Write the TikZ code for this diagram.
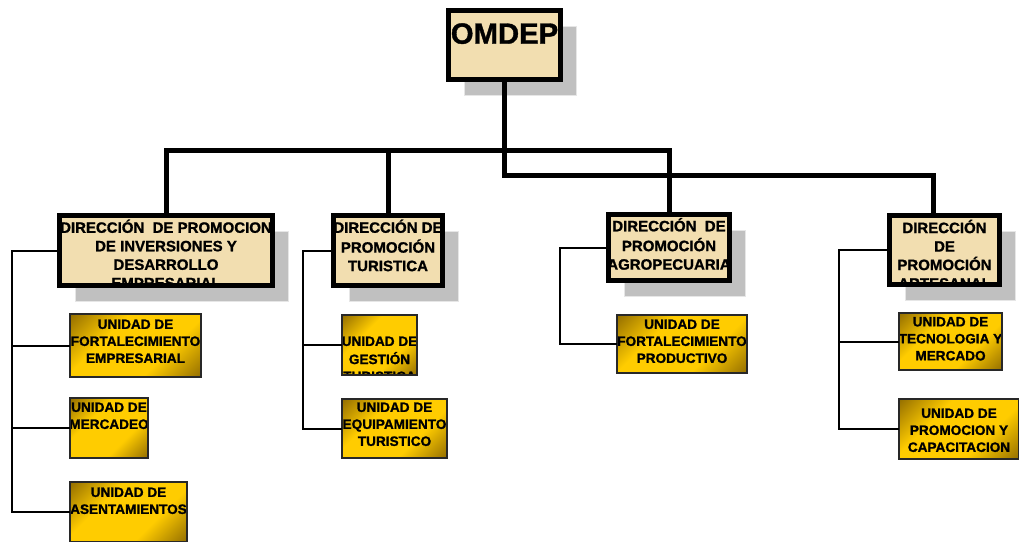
\documentclass[tikz,border=0pt]{standalone}
\usepackage{fontspec}
\setmainfont{Liberation Sans}[BoldFeatures={FakeBold=1.2}]
\usetikzlibrary{shadows}

\definecolor{papel}{RGB}{242,222,176}
\definecolor{oro}{RGB}{255,204,0}
\definecolor{oroosc}{RGB}{70,50,0}
\definecolor{oromed}{RGB}{165,125,0}
\definecolor{sombra}{RGB}{192,192,192}
\definecolor{sombraborde}{RGB}{230,230,230}
\definecolor{borde}{RGB}{40,40,40}

\pgfdeclarehorizontalshading{oroshade}{100bp}{color(0bp)=(oroosc); color(18bp)=(oromed); color(36bp)=(oro); color(64bp)=(oro); color(82bp)=(oromed); color(100bp)=(oroosc)}

\tikzset{
  papelbox/.style={draw=black, fill=papel, outer sep=0pt,
    general shadow={fill=sombra, draw=sombraborde, line width=1.2pt, shadow xshift=16pt, shadow yshift=-16pt}},
  texto/.style={anchor=north, align=center, inner sep=0pt, minimum width=0pt, minimum height=0pt},
  dirtexto/.style={texto, font=\bfseries\fontsize{15}{18.5}\selectfont},
  raiztexto/.style={texto, font=\bfseries\fontsize{29.3}{34}\selectfont},
  untexto/.style={texto, font=\bfseries\fontsize{13.6}{17}\selectfont},
  raiz/.style 2 args={papelbox, line width=5pt,
    path picture={\node[raiztexto] at ([yshift=-#1pt]path picture bounding box.north) {\strut#2};}},
  direccion/.style 2 args={papelbox, line width=4.5pt,
    path picture={\node[dirtexto] at ([yshift=-#1pt]path picture bounding box.north) {\strut#2};}},
  unidad/.style 2 args={draw=borde, line width=2pt, outer sep=0pt, shade, shading=oroshade, shading angle=-45,
    path picture={\node[untexto] at ([yshift=-#1pt]path picture bounding box.north) {\strut#2};}},
  tronco/.style={line width=5pt},
  rama/.style={line width=2pt},
}

\begin{document}
\begin{tikzpicture}[x=1pt, y=-1pt]
\useasboundingbox (0,0) rectangle (1019,541);

% raiz
\node[raiz={9.4}{OMDEP}, minimum width=112pt, minimum height=69pt] (omdep) at (504.5,45) {};

% direcciones
\node[direccion={4}{DIRECCIÓN~ DE PROMOCION\\DE INVERSIONES Y\\DESARROLLO\\EMPRESARIAL}, minimum width=213pt, minimum height=70pt] (d1) at (166,250.5) {};
\node[direccion={4}{DIRECCIÓN DE\\PROMOCIÓN\\TURISTICA}, minimum width=109pt, minimum height=70pt] (d2) at (388,250.5) {};
\node[direccion={3.5}{DIRECCIÓN~ DE\\PROMOCIÓN\\AGROPECUARIA}, minimum width=121pt, minimum height=66pt] (d3) at (669,247.5) {};
\node[direccion={4.3}{DIRECCIÓN\\DE\\PROMOCIÓN\\ARTESANAL}, minimum width=110pt, minimum height=69pt] (d4) at (944.5,250) {};

% unidades
\node[unidad={3}{UNIDAD DE\\FORTALECIMIENTO\\EMPRESARIAL}, minimum width=131pt, minimum height=63pt] (u1a) at (135.5,345.5) {};
\node[unidad={2}{UNIDAD DE\\MERCADEO}, minimum width=78pt, minimum height=60pt] (u1b) at (109,428) {};
\node[unidad={3}{UNIDAD DE\\ASENTAMIENTOS}, minimum width=117pt, minimum height=60pt] (u1c) at (128.5,512) {};

\node[unidad={19}{UNIDAD DE\\GESTIÓN\\TURISTICA}, minimum width=75pt, minimum height=60pt] (u2a) at (379.5,345) {};
\node[unidad={1}{UNIDAD DE\\EQUIPAMIENTO\\TURISTICO}, minimum width=105pt, minimum height=59pt] (u2b) at (394.5,428.5) {};

\node[unidad={2}{UNIDAD DE\\FORTALECIMIENTO\\PRODUCTIVO}, minimum width=130pt, minimum height=58pt] (u3a) at (682,344) {};

\node[unidad={1.5}{UNIDAD DE\\TECNOLOGIA Y\\MERCADO}, minimum width=103pt, minimum height=57pt] (u4a) at (950.5,341.5) {};
\node[unidad={7}{UNIDAD DE\\PROMOCION Y\\CAPACITACION}, minimum width=120pt, minimum height=60pt] (u4b) at (959,429) {};

% tronco
\coordinate (j1) at (504.5,150);
\coordinate (j2) at (504.5,175);
\draw[tronco] (omdep.south) -- (j2) -| ([xshift=-11.5pt]d4.north);
\draw[tronco] (d1.north) -- (d1.north |- j1) -- (d3.north |- j1) -- (d3.north);
\draw[tronco] (d2.north) -- (d2.north |- j1);

% ramas
\coordinate (e1) at (12,250.5);
\draw[rama] (d1.west) -- (e1) |- (u1c.west);
\draw[rama] (e1 |- u1a.west) -- (u1a.west);
\draw[rama] (e1 |- u1b.west) -- (u1b.west);

\coordinate (e2) at (303,250.5);
\draw[rama] (d2.west) -- (e2) |- (u2b.west);
\draw[rama] (e2 |- u2a.west) -- (u2a.west);

\coordinate (e3) at (560,247.5);
\draw[rama] (d3.west) -- (e3) |- (u3a.west);

\coordinate (e4) at (839,250);
\draw[rama] (d4.west) -- (e4) |- (u4b.west);
\draw[rama] (e4 |- u4a.west) -- (u4a.west);

\end{tikzpicture}
\end{document}
